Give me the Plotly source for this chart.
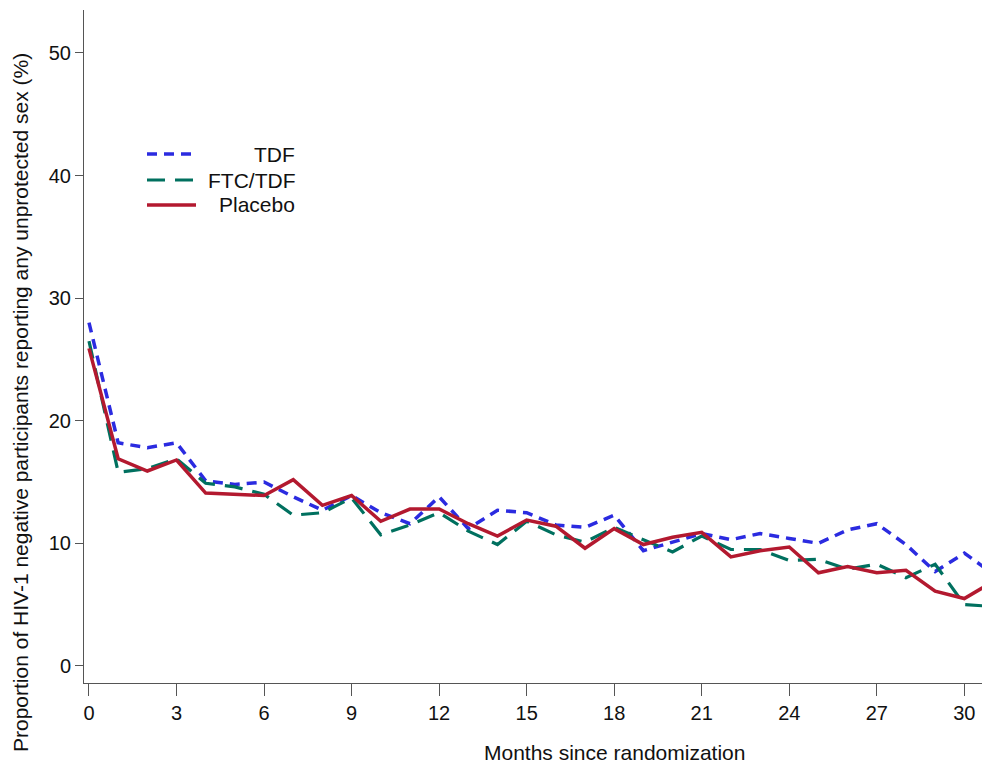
import plotly.graph_objects as go

months = list(range(0, 32))

tdf = [28.0, 18.2, 17.8, 18.2, 15.1, 14.8, 15.0, 13.8, 12.7, 13.9, 12.5, 11.6,
       13.8, 11.2, 12.7, 12.5, 11.5, 11.3, 12.3, 9.4, 10.1, 10.8, 10.3, 10.8,
       10.4, 10.0, 11.1, 11.6, 9.9, 7.7, 9.2, 7.5]

ftc_tdf = [26.5, 15.8, 16.1, 16.9, 14.9, 14.6, 14.0, 12.3, 12.5, 13.7, 10.7, 11.5,
           12.5, 11.0, 9.9, 11.8, 10.7, 10.1, 11.3, 10.3, 9.3, 10.6, 9.5, 9.5,
           8.6, 8.7, 7.9, 8.3, 7.2, 8.3, 5.0, 4.85]

placebo = [25.9, 16.9, 15.9, 16.8, 14.1, 14.0, 13.9, 15.2, 13.1, 13.9, 11.8, 12.8,
           12.8, 11.6, 10.6, 11.9, 11.4, 9.6, 11.2, 9.9, 10.5, 10.9, 8.9, 9.4,
           9.7, 7.6, 8.1, 7.6, 7.8, 6.1, 5.5, 6.9]

x_ticks = list(range(0, 31, 3))
y_ticks = [0, 10, 20, 30, 40, 50]

series = [
    ("TDF", tdf, "#2b2be0", "10px,7px", 3.5),
    ("FTC/TDF", ftc_tdf, "#00705f", "18px,10px", 3.2),
    ("Placebo", placebo, "#b3192f", "solid", 3.5),
]

FONT = "Liberation Sans, Arial"

# page body has an 8px margin; work in viewport pixels and convert
OFF = 8
W, H = 990 - OFF, 768 - OFF
L, R, T, B = 84, 990, 10, 683          # plot area in viewport pixels
pw, ph = R - L, B - T


def px(x):
    return (x - L) / pw


def py(y):
    return (B - y) / ph


fig = go.Figure()
for name, vals, color, dash, w in series:
    fig.add_trace(go.Scatter(x=months, y=vals, mode="lines", name=name,
                             line=dict(color=color, dash=dash, width=w),
                             showlegend=False))

# custom legend with right-aligned labels, as in the reference
leg_y = [154, 180, 205]
for (name, vals, color, dash, w), ly in zip(series, leg_y):
    fig.add_shape(type="line", xref="paper", yref="paper",
                  x0=px(147), x1=px(196), y0=py(ly), y1=py(ly),
                  line=dict(color=color, dash=dash, width=w))
    fig.add_annotation(xref="paper", yref="paper", x=px(297), y=py(ly),
                       text=name, showarrow=False, xanchor="right", yanchor="middle",
                       font=dict(family=FONT, size=21, color="#111"))

fig.add_annotation(xref="paper", yref="paper", x=px(614), y=py(752),
                   text="Months since randomization", showarrow=False,
                   xanchor="center", yanchor="middle",
                   font=dict(family=FONT, size=21, color="#111"))
fig.add_annotation(xref="paper", yref="paper", x=px(21), y=py(403),
                   text="Proportion of HIV-1 negative participants reporting any unprotected sex (%)",
                   showarrow=False, textangle=-90, xanchor="center", yanchor="middle",
                   font=dict(family=FONT, size=21, color="#111"))

axis_common = dict(showgrid=False, zeroline=False, showline=True, linecolor="#555",
                   linewidth=1, ticks="outside", tickcolor="#555")

fig.update_xaxes(range=[-0.171, 30.88], tickvals=x_ticks, ticklen=12,
                 tickfont=dict(family=FONT, size=20, color="#111"), **axis_common)
fig.update_yaxes(range=[-1.39, 53.5], tickvals=y_ticks, ticklen=8,
                 tickfont=dict(family=FONT, size=20, color="#111"), **axis_common)

fig.update_layout(width=W, height=H,
                  margin=dict(l=L - OFF, r=W - (R - OFF), t=T - OFF, b=H - (B - OFF)),
                  plot_bgcolor="white", paper_bgcolor="white")

fig.write_html("out.html")
